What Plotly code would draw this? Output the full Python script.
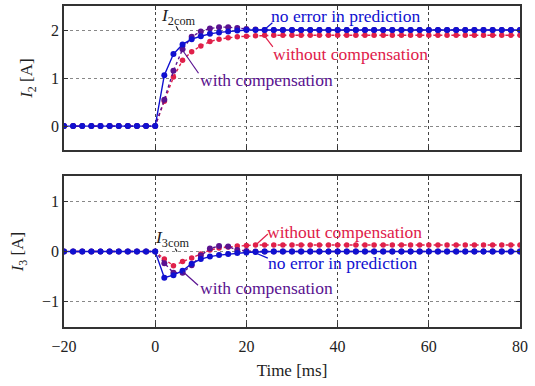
import plotly.graph_objects as go

t_ms = list(range(-20, 82, 2))

pre = [0.0] * 11
i2_no_error = pre + [1.06, 1.50, 1.70, 1.81, 1.87, 1.92, 1.95, 1.97, 1.99, 2.00] + [2.00] * 30
i2_with_comp = pre + [0.55, 1.15, 1.60, 1.86, 1.97, 2.03, 2.06, 2.06, 2.04, 2.02, 2.01] + [2.00] * 29
i2_without_comp = pre + [0.52, 1.02, 1.37, 1.55, 1.67, 1.76, 1.81, 1.84, 1.86, 1.87, 1.88] + [1.89] * 29

i3_no_error = pre + [-0.52, -0.47, -0.38, -0.24, -0.15, -0.10, -0.07, -0.05, -0.03, -0.02, -0.01] + [0.0] * 29
i3_with_comp = pre + [-0.23, -0.42, -0.42, -0.27, -0.08, 0.06, 0.11, 0.10, 0.03, 0.01] + [0.0] * 30
i3_without_comp = pre + [-0.15, -0.28, -0.20, -0.13, -0.05, 0.03, 0.07, 0.09, 0.11, 0.12, 0.13] + [0.13] * 29

x_ticks = [-20, 0, 20, 40, 60, 80]
y2_ticks = [0, 1, 2]
y3_ticks = [-1, 0, 1]

BLUE = "#1010d0"
RED = "#e0204a"
PURPLE = "#5a1290"
FONT = "Liberation Serif, Times New Roman, serif"

fig = go.Figure()

def add_series(y, color, dash, xa, ya, msize):
    fig.add_trace(go.Scatter(
        x=t_ms, y=y, mode="lines+markers", xaxis=xa, yaxis=ya,
        line=dict(color=color, width=1.4, dash=dash),
        marker=dict(color=color, size=msize), showlegend=False))

add_series(i2_without_comp, RED, "dot", "x", "y", 5.5)
add_series(i2_with_comp, PURPLE, "dot", "x", "y", 6)
add_series(i2_no_error, BLUE, "solid", "x", "y", 6)
add_series(i3_without_comp, RED, "dot", "x2", "y2", 5.5)
add_series(i3_with_comp, PURPLE, "dot", "x2", "y2", 6)
add_series(i3_no_error, BLUE, "solid", "x2", "y2", 6)

axis_common = dict(
    range=[-20, 80], tickvals=x_ticks, ticks="inside", ticklen=4,
    tickcolor="#333", showline=True, linecolor="#333", linewidth=1.5,
    mirror="ticks", showgrid=True, gridcolor="#444", griddash="dot",
    gridwidth=1, zeroline=False, automargin=False,
    tickfont=dict(family=FONT, size=16, color="#222"))

title_font = dict(family=FONT, size=17, color="#222")

fig.update_layout(
    width=535, height=386,
    margin=dict(l=64, r=15, t=6, b=59, autoexpand=False),
    plot_bgcolor="white", paper_bgcolor="white",
    font=dict(family=FONT, size=16, color="#222"),
    xaxis=dict(axis_common, anchor="y", showticklabels=False),
    yaxis=dict(axis_common, range=[-0.5, 2.5], tickvals=y2_ticks, domain=[0.551, 1.0],
               title=dict(text="<i>I</i><sub>2</sub> [A]", standoff=14, font=title_font)),
    xaxis2=dict(axis_common, anchor="y2", matches="x", ticklabelstandoff=4,
                title=dict(text="Time [ms]", standoff=10, font=title_font)),
    yaxis2=dict(axis_common, range=[-1.5, 1.5], tickvals=y3_ticks, domain=[0.0, 0.470],
                title=dict(text="<i>I</i><sub>3</sub> [A]", standoff=14, font=title_font)),
)
for ax in ["yaxis", "yaxis2"]:
    fig.layout[ax].update(gridcolor="#888")

def label(text, x, y, color, xa, ya, lx0=None, ly0=None, lx1=None, ly1=None):
    fig.add_annotation(x=x, y=y, xref=xa, yref=ya, text=text, showarrow=False,
                       font=dict(family=FONT, size=17.5, color=color))
    if lx0 is not None:
        fig.add_shape(type="line", x0=lx0, y0=ly0, x1=lx1, y1=ly1, xref=xa, yref=ya,
                      line=dict(color=color, width=1.2))

# top panel
label("<i>I</i><sub>2com</sub>", 5.1, 2.29, "#222", "x", "y", 4.6, 2.08, 5.0, 2.0)
label("no error in prediction", 41.8, 2.29, BLUE, "x", "y", 24.0, 2.01, 25.7, 2.15)
label("without compensation", 42.8, 1.50, RED, "x", "y", 24.0, 1.875, 25.8, 1.65)
label("with compensation", 24.4, 0.97, PURPLE, "x", "y", 5.7, 1.62, 9.5, 1.10)
# bottom panel
label("<i>I</i><sub>3com</sub>", 3.9, 0.26, "#222", "x2", "y2", 4.4, 0.06, 4.8, 0.0)
label("without compensation", 41.6, 0.38, RED, "x2", "y2", 21.8, 0.11, 24.7, 0.35)
label("no error in prediction", 41.1, -0.23, BLUE, "x2", "y2", 21.8, -0.02, 24.7, -0.13)
label("with compensation", 24.4, -0.73, PURPLE, "x2", "y2", 6.1, -0.40, 9.4, -0.67)

fig.write_html("out.html", config={"displayModeBar": False},
               post_script="document.body.style.margin='0';")
